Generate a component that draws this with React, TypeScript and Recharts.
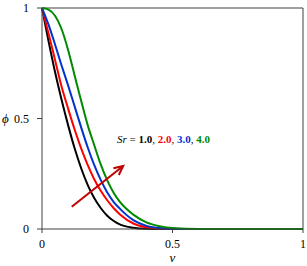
import React from 'react';
import { LineChart, Line, XAxis, YAxis, ReferenceLine, Label, Customized } from 'recharts';

const vGrid = [0, 0.025, 0.05, 0.075, 0.1, 0.125, 0.15, 0.175, 0.2, 0.225, 0.25, 0.275, 0.3, 0.35, 0.4, 0.45, 0.5, 0.6, 0.7, 0.8, 0.9, 1.0];
const sr1 = [1, 0.85, 0.71, 0.585, 0.47, 0.365, 0.275, 0.2, 0.14, 0.095, 0.06, 0.036, 0.02, 0.006, 0.001, 0, 0, 0, 0, 0, 0, 0];
const sr2 = [1, 0.885, 0.765, 0.645, 0.545, 0.45, 0.365, 0.29, 0.225, 0.173, 0.13, 0.094, 0.065, 0.025, 0.008, 0.002, 0, 0, 0, 0, 0, 0];
const sr3 = [1, 0.925, 0.835, 0.74, 0.65, 0.555, 0.46, 0.37, 0.29, 0.222, 0.165, 0.122, 0.09, 0.04, 0.014, 0.004, 0, 0, 0, 0, 0, 0];
const sr4 = [1, 0.993, 0.965, 0.905, 0.81, 0.695, 0.58, 0.47, 0.38, 0.292, 0.22, 0.163, 0.12, 0.065, 0.03, 0.013, 0.004, 0, 0, 0, 0, 0];
const axisTicks = [0, 0.5, 1];

const data = vGrid.map((v, i) => ({ v, sr1: sr1[i], sr2: sr2[i], sr3: sr3[i], sr4: sr4[i] }));

const FONT = '"Liberation Serif", "Times New Roman", serif';
const AXIS = '#404040';

// arrow drawn from the segment endpoints
const Arrow = (props: any) => {
    const { x1, y1, x2, y2 } = props;
    const ang = Math.atan2(y2 - y1, x2 - x1);
    const len = 10;
    const spread = 0.45;
    const ax = x2 - len * Math.cos(ang - spread);
    const ay = y2 - len * Math.sin(ang - spread);
    const bx = x2 - len * Math.cos(ang + spread);
    const by = y2 - len * Math.sin(ang + spread);
    return (
        <g>
            <line x1={x1} y1={y1} x2={x2} y2={y2} stroke="#c00000" strokeWidth={2} />
            <polyline points={`${ax},${ay} ${x2},${y2} ${bx},${by}`} fill="none" stroke="#c00000" strokeWidth={2} />
        </g>
    );
};

const Annotation = () => (
    <text x={117} y={143} fontFamily={FONT} fontSize={11} fill="#000">
        <tspan fontStyle="italic">Sr</tspan>
        <tspan> = </tspan>
        <tspan fontWeight="bold">1.0</tspan>
        <tspan>, </tspan>
        <tspan fontWeight="bold" fill="#ff0000">2.0</tspan>
        <tspan>, </tspan>
        <tspan fontWeight="bold" fill="#0033cc">3.0</tspan>
        <tspan>, </tspan>
        <tspan fontWeight="bold" fill="#008a00">4.0</tspan>
    </text>
);

const App: React.FC = () => {
    return (
        <div style={{ position: 'absolute', left: 0, top: 0, background: '#fff' }}>
            <LineChart width={307} height={266} data={data} margin={{ top: 8, right: 4, left: 0, bottom: 0 }}>
                <XAxis
                    dataKey="v"
                    type="number"
                    domain={[0, 1]}
                    ticks={axisTicks}
                    tickFormatter={(t: number) => String(t)}
                    stroke={AXIS}
                    tickSize={4}
                    tickMargin={6}
                    height={37}
                    tick={{ fontSize: 12, fontFamily: FONT, fill: '#000' }}
                >
                    <Label value="v" position="insideBottom" offset={4} style={{ fontSize: 13, fontFamily: FONT, fontStyle: 'italic', fill: '#000' }} />
                </XAxis>
                <YAxis
                    type="number"
                    domain={[0, 1]}
                    ticks={axisTicks}
                    tickFormatter={(t: number) => String(t)}
                    stroke={AXIS}
                    width={42}
                    tickSize={5}
                    tickMargin={8}
                    tick={{ fontSize: 12, fontFamily: FONT, fill: '#000' }}
                >
                    <Label value="ϕ" position="insideLeft" offset={2} style={{ fontSize: 13, fontFamily: FONT, fontStyle: 'italic', fill: '#000' }} />
                </YAxis>
                <ReferenceLine y={1} stroke={AXIS} />
                <ReferenceLine x={1} stroke={AXIS} />
                <Line type="monotone" dataKey="sr1" stroke="#000000" strokeWidth={2} dot={false} isAnimationActive={false} />
                <Line type="monotone" dataKey="sr2" stroke="#ff0000" strokeWidth={2} dot={false} isAnimationActive={false} />
                <Line type="monotone" dataKey="sr3" stroke="#0033cc" strokeWidth={2} dot={false} isAnimationActive={false} />
                <Line type="monotone" dataKey="sr4" stroke="#008a00" strokeWidth={2} dot={false} isAnimationActive={false} />
                <ReferenceLine
                    segment={[{ x: 0.114, y: 0.101 }, { x: 0.311, y: 0.285 }]}
                    shape={Arrow}
                />
                <Customized component={Annotation} />
            </LineChart>
        </div>
    );
};

export default App;
